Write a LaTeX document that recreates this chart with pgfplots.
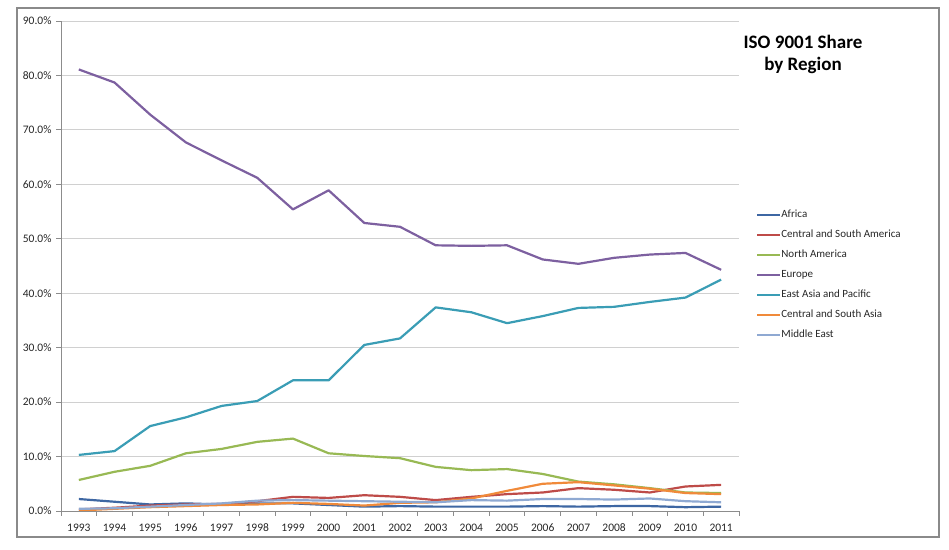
\documentclass[border=0pt]{standalone}
\usepackage{pgfplots}
\pgfplotsset{compat=1.18}
\usepackage{fontspec}
\setmainfont{Carlito}
\definecolor{cAfrica}{HTML}{3E67A3}
\definecolor{cCSAm}{HTML}{BE4B48}
\definecolor{cNAm}{HTML}{98B954}
\definecolor{cEur}{HTML}{7D60A0}
\definecolor{cEAP}{HTML}{3A9DB5}
\definecolor{cCSAs}{HTML}{F08A3A}
\definecolor{cME}{HTML}{8FA9D2}
\definecolor{axisgray}{HTML}{8C8C8C}
\definecolor{gridgray}{HTML}{D0D0D0}
\definecolor{framegray}{HTML}{8A8A8A}
\begin{document}
\begin{tikzpicture}
\path[use as bounding box] (0bp,0bp) rectangle (949bp,550bp);
\draw[line width=1.3bp, framegray] (17bp,13bp) rectangle (939bp,542bp);
\begin{axis}[
  at={(61bp,39bp)}, anchor=south west,
  scale only axis, width=678bp, height=490bp,
  xmin=1992.5, xmax=2011.5, ymin=0, ymax=90,
  axis x line*=bottom, axis y line*=left,
  axis line style={axisgray, line width=0.8bp},
  xtick={1992.5,1993.5,...,2011.5},
  xticklabels={1993,1994,1995,1996,1997,1998,1999,2000,2001,2002,2003,2004,2005,2006,2007,2008,2009,2010,2011,{}},
  ytick={0,10,...,90},
  yticklabel={\pgfmathprintnumber[fixed,fixed zerofill,precision=1]{\tick}\%},
  /pgf/number format/assume math mode=true,
  tick align=outside, major tick length=5bp,
  tick style={axisgray, line width=0.8bp},
  ymajorgrids, grid style={gridgray, line width=0.8bp},
  tick label style={font=\fontsize{11.5bp}{13bp}\selectfont, text=black!85},
  xticklabel style={font=\fontsize{11.5bp}{13bp}\selectfont, xshift=17.84bp, yshift=-4bp, text height=8bp, text depth=0pt},
  yticklabel style={font=\fontsize{11.5bp}{13bp}\selectfont, xshift=-1bp},
  every axis plot/.append style={line width=2.2bp, line join=round, mark=none},
  legend cell align=left,
  legend image code/.code={\draw[#1] (0bp,0bp) -- (23bp,0bp);},
  legend style={at={(1.025,0.615)}, anchor=north west, draw=none, fill=none,
    font=\fontsize{11bp}{13bp}\selectfont, row sep=10bp, inner sep=0pt,
    nodes={inner sep=0pt, text height=8bp, text depth=2bp, text=black!85}},
]
\addplot[cAfrica] coordinates {(1993,2.2)(1994,1.7)(1995,1.2)(1996,1.4)(1997,1.2)(1998,1.4)(1999,1.4)(2000,1.1)(2001,0.8)(2002,0.9)(2003,0.8)(2004,0.8)(2005,0.8)(2006,0.9)(2007,0.8)(2008,0.9)(2009,0.9)(2010,0.7)(2011,0.8)};
\addlegendentry{Africa}
\addplot[cCSAm] coordinates {(1993,0.3)(1994,0.6)(1995,1.0)(1996,1.2)(1997,1.3)(1998,1.8)(1999,2.6)(2000,2.4)(2001,2.9)(2002,2.6)(2003,2.0)(2004,2.6)(2005,3.1)(2006,3.4)(2007,4.2)(2008,3.9)(2009,3.4)(2010,4.5)(2011,4.8)};
\addlegendentry{Central and South America}
\addplot[cNAm] coordinates {(1993,5.7)(1994,7.2)(1995,8.3)(1996,10.6)(1997,11.4)(1998,12.7)(1999,13.3)(2000,10.6)(2001,10.1)(2002,9.7)(2003,8.1)(2004,7.5)(2005,7.7)(2006,6.8)(2007,5.4)(2008,4.9)(2009,4.2)(2010,3.4)(2011,3.3)};
\addlegendentry{North America}
\addplot[cEur] coordinates {(1993,81.1)(1994,78.7)(1995,72.8)(1996,67.7)(1997,64.4)(1998,61.2)(1999,55.4)(2000,58.9)(2001,52.9)(2002,52.2)(2003,48.8)(2004,48.7)(2005,48.8)(2006,46.2)(2007,45.4)(2008,46.5)(2009,47.1)(2010,47.4)(2011,44.3)};
\addlegendentry{Europe}
\addplot[cEAP] coordinates {(1993,10.3)(1994,11.0)(1995,15.6)(1996,17.2)(1997,19.3)(1998,20.2)(1999,24.0)(2000,24.0)(2001,30.5)(2002,31.7)(2003,37.4)(2004,36.5)(2005,34.5)(2006,35.8)(2007,37.3)(2008,37.5)(2009,38.4)(2010,39.2)(2011,42.5)};
\addlegendentry{East Asia and Pacific}
\addplot[cCSAs] coordinates {(1993,0.1)(1994,0.4)(1995,0.7)(1996,0.9)(1997,1.1)(1998,1.2)(1999,1.5)(2000,1.3)(2001,1.0)(2002,1.5)(2003,1.6)(2004,2.3)(2005,3.7)(2006,5.0)(2007,5.3)(2008,4.7)(2009,4.1)(2010,3.3)(2011,3.1)};
\addlegendentry{Central and South Asia}
\addplot[cME] coordinates {(1993,0.4)(1994,0.5)(1995,0.8)(1996,1.1)(1997,1.4)(1998,1.9)(1999,2.0)(2000,1.9)(2001,1.8)(2002,1.7)(2003,1.6)(2004,2.0)(2005,1.9)(2006,2.2)(2007,2.2)(2008,2.1)(2009,2.3)(2010,1.8)(2011,1.6)};
\addlegendentry{Middle East}
\end{axis}
\node[font=\bfseries\fontsize{19bp}{22bp}\selectfont, align=center, text=black] at (803bp,496bp) {ISO 9001 Share\\by Region};
\end{tikzpicture}
\end{document}
